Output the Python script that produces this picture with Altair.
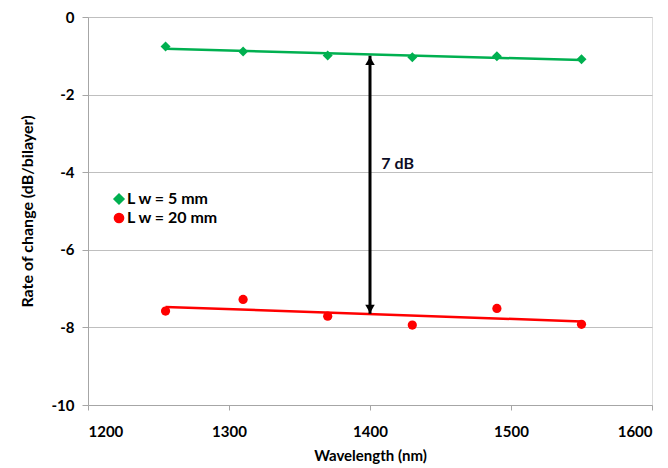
import altair as alt
import pandas as pd

wavelength = [1255, 1310, 1370, 1430, 1490, 1550]
lw5 = [-0.76, -0.89, -0.99, -1.04, -1.01, -1.09]
lw20 = [-7.58, -7.28, -7.71, -7.94, -7.51, -7.92]
series_names = ["L w = 5 mm", "L w = 20 mm"]
colors = ["#00B050", "#FF0000"]
shapes = ["diamond", "circle"]

arrow_x = [1400]
arrow_top = [-1.0]
arrow_bottom = [-7.65]
note_text = ["7 dB"]
note_x = [1408]
note_y = [-3.78]

FONT = "Lato"

df = pd.DataFrame({
    "wl": wavelength * 2,
    "v": lw5 + lw20,
    "s": [series_names[0]] * len(wavelength) + [series_names[1]] * len(wavelength),
})

xs = alt.Scale(domain=[1200, 1600], nice=False, zero=False)
ys = alt.Scale(domain=[-10, 0], nice=False, zero=False)
cs = alt.Scale(domain=series_names, range=colors)
ss = alt.Scale(domain=series_names, range=shapes)

xax = alt.Axis(values=[1200, 1300, 1400, 1500, 1600], title="Wavelength (nm)", grid=False,
               labelExpr="toString(datum.value)",
               domainColor="#A6A6A6", tickColor="#A6A6A6", tickSize=5, labelFontSize=15,
               labelFontWeight="bold", labelFont=FONT, labelColor="#000000", labelPadding=14,
               titleFont=FONT, titleFontSize=15, titleFontWeight="bold", titlePadding=9,
               titleColor="#000000")
yax = alt.Axis(values=[0, -2, -4, -6, -8, -10], title="Rate of change (dB/bilayer)", grid=True,
               labelExpr="toString(datum.value)",
               gridColor="#BFBFBF", domainColor="#A6A6A6", tickColor="#A6A6A6", tickSize=6,
               labelFontSize=15, labelFontWeight="bold", labelFont=FONT, labelColor="#000000",
               labelPadding=8, titleFont=FONT, titleFontSize=16, titleFontWeight="bold",
               titlePadding=16, titleColor="#000000")

legend = alt.Legend(
    title=None, orient="none", legendX=23, legendY=174, labelFont=FONT,
    labelFontSize=16, labelFontWeight="bold", labelColor="#000000", symbolSize=80,
    rowPadding=3, labelOffset=0)

base = alt.Chart(df)

pts = base.mark_point(filled=True, opacity=1).encode(
    x=alt.X("wl:Q", scale=xs, axis=xax),
    y=alt.Y("v:Q", scale=ys, axis=yax),
    color=alt.Color("s:N", scale=cs, legend=legend),
    shape=alt.Shape("s:N", scale=ss, legend=legend),
    size=alt.Size("s:N", scale=alt.Scale(domain=series_names, range=[100, 85]), legend=None),
)

trend = base.transform_regression("wl", "v", groupby=["s"], extent=[1255, 1550]).mark_line(
    strokeWidth=2.5
).encode(
    x=alt.X("wl:Q", scale=xs),
    y=alt.Y("v:Q", scale=ys),
    color=alt.Color("s:N", scale=cs, legend=legend),
)

adf = pd.DataFrame({"x": arrow_x, "y1": arrow_top, "y2": arrow_bottom})
shaft = alt.Chart(adf).mark_rule(color="black", strokeWidth=3).encode(
    x=alt.X("x:Q", scale=xs), y=alt.Y("y1:Q", scale=ys), y2="y2:Q")
head_top = alt.Chart(adf).mark_point(shape="triangle-up", filled=True, color="black",
                                     opacity=1, size=90, yOffset=5).encode(
    x=alt.X("x:Q", scale=xs), y=alt.Y("y1:Q", scale=ys))
head_bot = alt.Chart(adf).mark_point(shape="triangle-down", filled=True, color="black",
                                     opacity=1, size=90, yOffset=-5).encode(
    x=alt.X("x:Q", scale=xs), y=alt.Y("y2:Q", scale=ys))

tdf = pd.DataFrame({"x": note_x, "y": note_y, "t": note_text})
note = alt.Chart(tdf).mark_text(align="left", baseline="middle", font=FONT, fontSize=16,
                                fontWeight="bold", color="#0D0D26").encode(
    x=alt.X("x:Q", scale=xs), y=alt.Y("y:Q", scale=ys), text="t:N")

chart = alt.layer(pts, trend, shaft, head_top, head_bot, note).properties(
    width=564, height=388,
    autosize=alt.AutoSizeParams(type="none"),
    padding={"left": 80, "top": 9, "right": 8, "bottom": 63},
).configure_view(stroke=None).configure(background="white")

chart.save("out.html", embed_options={"renderer": "svg", "actions": False})
